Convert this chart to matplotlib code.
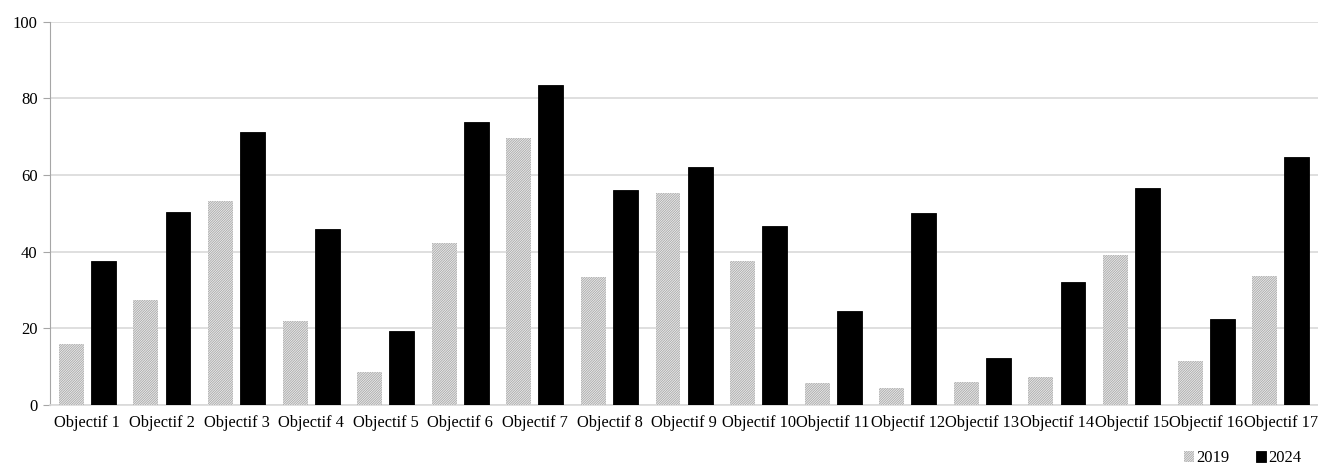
import numpy as np
import matplotlib
matplotlib.use("Agg")
import matplotlib.pyplot as plt

plt.rcParams['font.family'] = ['Liberation Serif', 'DejaVu Serif']
plt.rcParams['hatch.linewidth'] = 0.6

categories = ["Objectif %d" % i for i in range(1, 18)]
values_2019 = [15.8, 27.5, 53.3, 22.0, 8.5, 42.4, 69.7, 33.4, 55.4, 37.6,
               5.7, 4.4, 5.9, 7.2, 39.2, 11.6, 33.6]
values_2024 = [37.6, 50.4, 71.2, 46.0, 19.3, 73.9, 83.6, 56.1, 62.2, 46.6,
               24.6, 50.2, 12.3, 32.1, 56.7, 22.5, 64.6]
series_labels = ["2019", "2024"]
y_ticks = [0, 20, 40, 60, 80, 100]

fig = plt.figure(figsize=(13.18, 4.65), dpi=100)
ax = fig.add_axes([0.038, 0.129, 0.962, 0.824])

x = np.arange(len(categories))
w = 0.335
off = 0.215
ax.bar(x - off, values_2019, w, facecolor='#ededed', edgecolor='#a8a8a8',
       hatch='/' * 14, linewidth=0, label=series_labels[0], zorder=3)
ax.bar(x + off, values_2024, w, color='black', edgecolor='black',
       linewidth=0.6, label=series_labels[1], zorder=3)

ax.set_xlim(-0.5, len(categories) - 0.5)
ax.set_ylim(0, 100)
ax.set_yticks(y_ticks)
ax.set_xticks(x)
ax.set_xticklabels(categories, fontsize=11.8)
ax.tick_params(axis='y', labelsize=12, length=5, color='#a6a6a6', pad=4)
ax.tick_params(axis='x', length=0, pad=7)
ax.grid(axis='y', color='#d9d9d9', linewidth=1.2, zorder=0)
for s in ['top', 'right']:
    ax.spines[s].set_visible(False)
ax.spines['left'].set_color('#a6a6a6')
ax.spines['bottom'].set_color('#d9d9d9')
ax.spines['bottom'].set_linewidth(1.2)

fig.legend(loc='lower right', bbox_to_anchor=(0.999, -0.035), ncol=2,
           frameon=False, fontsize=12, handlelength=0.6, handleheight=0.6,
           handletextpad=0.15, columnspacing=1.6)

fig.savefig('out.png', dpi=100)
